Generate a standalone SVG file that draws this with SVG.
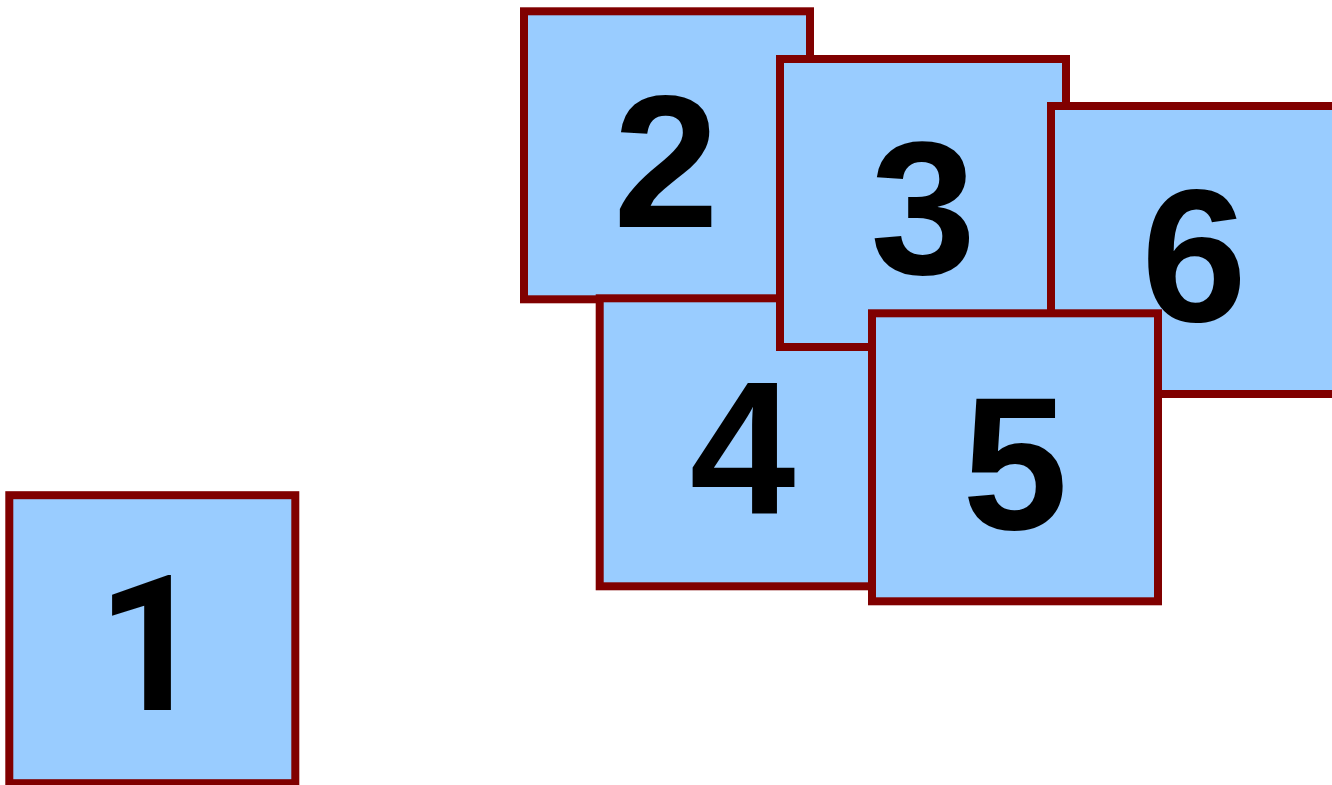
<svg xmlns="http://www.w3.org/2000/svg" width="1332" height="785" viewBox="0 0 1332 785">
<style>
.box{fill:#99ccff;stroke:#800000;stroke-width:8}
.lbl{font-family:"Liberation Sans",Arial,sans-serif;font-weight:bold;font-size:190px;fill:#000;text-anchor:middle}
.lbl.one{font-family:Roboto,"Liberation Sans",Arial,sans-serif}
</style>
<rect width="1332" height="785" fill="#fff"/>
<g id="connectors"></g>
<g id="node1"><rect class="box" x="9.3" y="495.2" width="286" height="288"/><text class="lbl one" x="151" y="710">1</text></g>
<g id="node2"><rect class="box" x="524" y="11.3" width="286" height="288"/><text class="lbl" x="666" y="226.7">2</text></g>
<g id="node4"><rect class="box" x="599.7" y="298.3" width="286" height="288"/><text class="lbl" x="742.7" y="513.5">4</text></g>
<g id="node3"><rect class="box" x="780" y="59" width="286" height="288"/><text class="lbl" x="923" y="274">3</text></g>
<g id="node6"><rect class="box" x="1051" y="106" width="286" height="288"/><text class="lbl" x="1194" y="321">6</text></g>
<g id="node5"><rect class="box" x="872" y="313.3" width="286" height="288"/><text class="lbl" x="1015" y="528.5">5</text></g>
</svg>
